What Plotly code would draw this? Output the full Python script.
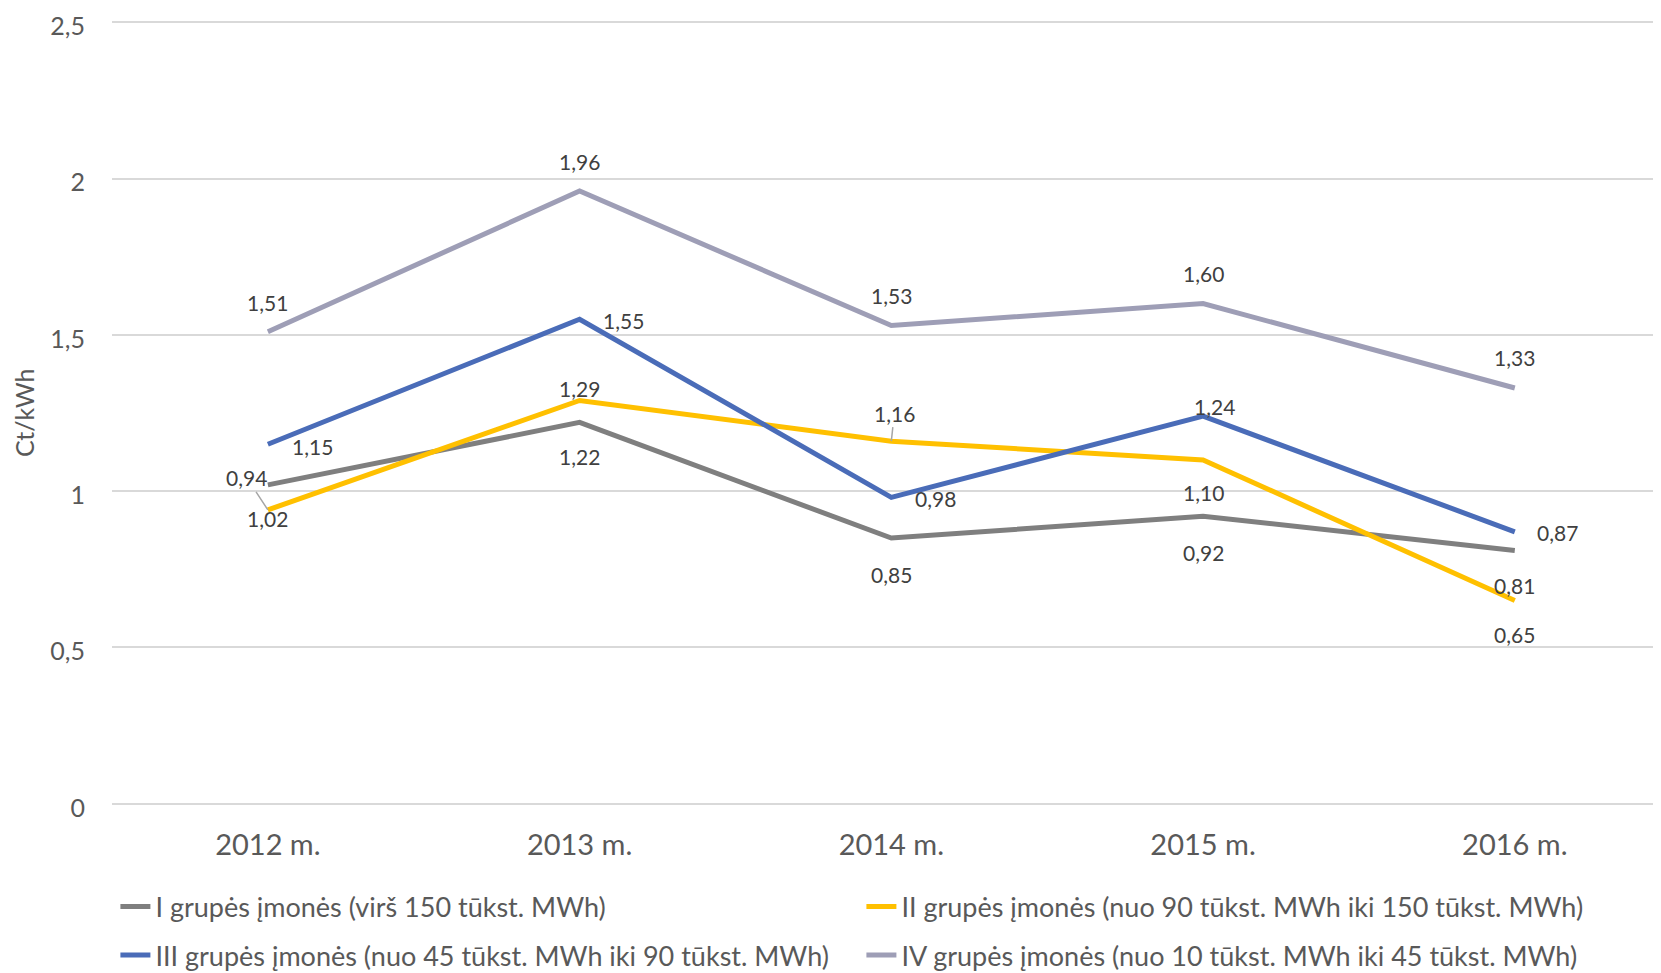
import plotly.graph_objects as go

years = ["2012 m.", "2013 m.", "2014 m.", "2015 m.", "2016 m."]
names = [
    "I grupės įmonės (virš 150 tūkst. MWh)",
    "II grupės įmonės (nuo 90 tūkst. MWh iki 150 tūkst. MWh)",
    "III grupės įmonės (nuo 45 tūkst. MWh iki 90 tūkst. MWh)",
    "IV grupės įmonės (nuo 10 tūkst. MWh iki 45 tūkst. MWh)",
]
group1 = [1.02, 1.22, 0.85, 0.92, 0.81]
group2 = [0.94, 1.29, 1.16, 1.10, 0.65]
group3 = [1.15, 1.55, 0.98, 1.24, 0.87]
group4 = [1.51, 1.96, 1.53, 1.60, 1.33]
series = [group1, group2, group3, group4]

colors = ["#7f7f7f", "#ffc000", "#4a6cb8", "#9e9eb6"]
legend_ids = ["legend", "legend", "legend2", "legend2"]

# label offsets (px) per series/point: (xshift, yshift)
offsets = [
    [(0, -34), (0, -34), (0, -36), (0, -36), (0, -35)],
    [(-21, 32), (0, 12), (3, 28), (0, -33), (0, -34)],
    [(45, -2), (44, -1), (44, -1), (11, 10), (43, -1)],
    [(0, 29), (0, 30), (0, 30), (0, 30), (0, 30)],
]
# labels with leader lines: (series index, point index)
leaders = [(1, 0), (1, 2)]

LBL_FONT = dict(family="Lato", size=21, color="#404040")

fig = go.Figure()
for name, vals, col, lg in zip(names, series, colors, legend_ids):
    fig.add_trace(go.Scatter(
        x=years, y=vals, name=name, mode="lines", legend=lg,
        line=dict(color=col, width=5), hoverinfo="skip",
    ))

annotations = []
for si, vals in enumerate(series):
    for pi, v in enumerate(vals):
        txt = f"{v:.2f}".replace(".", ",")
        dx, dy = offsets[si][pi]
        if (si, pi) in leaders:
            annotations.append(dict(
                x=pi, y=v, xref="x", yref="y", text=txt,
                showarrow=True, arrowhead=0, arrowwidth=1.5, arrowcolor="#a6a6a6",
                ax=dx, ay=-dy, standoff=0, font=LBL_FONT,
            ))
        else:
            annotations.append(dict(
                x=pi, y=v, xref="x", yref="y", text=txt, showarrow=False,
                xshift=dx, yshift=dy, font=LBL_FONT,
            ))

annotations.append(dict(
    x=-0.0568, y=0.5, xref="paper", yref="paper", text="Ct/kWh", textangle=-90,
    xanchor="center", yanchor="middle",
    showarrow=False, font=dict(family="Lato", size=25, color="#595959"),
))

legend_common = dict(
    orientation="h", x=0.0022, xanchor="left", yanchor="middle", yref="container",
    font=dict(family="Lato", size=27, color="#595959"),
    entrywidth=701, entrywidthmode="pixels", bgcolor="rgba(0,0,0,0)",
)

fig.update_layout(
    width=1653, height=965,
    margin=dict(l=104, r=0, t=12, b=167, autoexpand=False),
    paper_bgcolor="white", plot_bgcolor="white",
    separators=", ",
    font=dict(family="Lato", color="#595959"),
    annotations=annotations,
    showlegend=True,
    legend=dict(y=0.0684, **legend_common),
    legend2=dict(y=0.0182, **legend_common),
    xaxis=dict(
        range=[-0.5, 4.469], showgrid=False, zeroline=False, showline=False,
        ticks="", tickfont=dict(family="Lato", size=29, color="#595959"),
        ticklabelstandoff=19, automargin=False,
    ),
    yaxis=dict(
        range=[-0.007, 2.507], tickvals=[0, 0.5, 1, 1.5, 2, 2.5],
        showgrid=True, gridcolor="#d9d9d9", gridwidth=1.5,
        zeroline=True, zerolinecolor="#d9d9d9", zerolinewidth=1.5,
        showline=False, ticks="", automargin=False,
        tickfont=dict(family="Lato", size=25, color="#595959"),
        ticklabelstandoff=26, ticklabeloverflow="allow", ticklabelshift=4,
    ),
)

fig.write_html("out.html")
